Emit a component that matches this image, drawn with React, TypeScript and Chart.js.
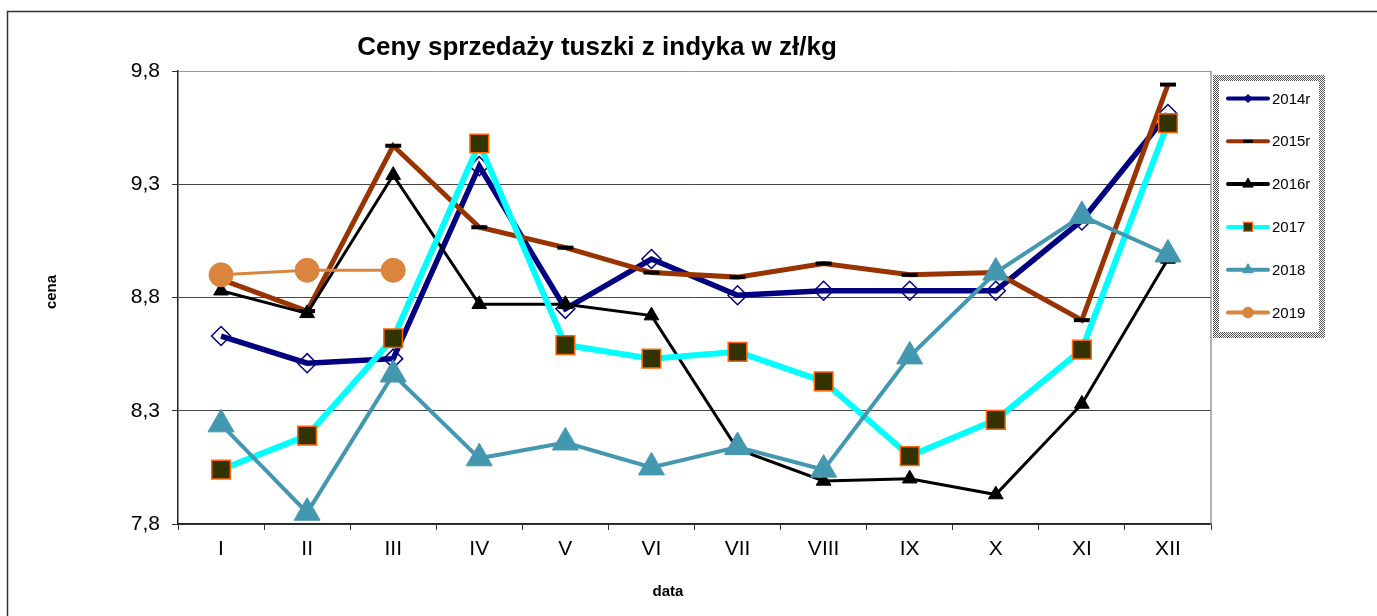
import React, { useEffect, useRef } from 'react';
import { Chart, registerables } from 'chart.js';

Chart.register(...registerables);

const TITLE = 'Ceny sprzedaży tuszki z indyka w zł/kg';
const X_TITLE = 'data';
const Y_TITLE = 'cena';

const CATEGORIES = ['I', 'II', 'III', 'IV', 'V', 'VI', 'VII', 'VIII', 'IX', 'X', 'XI', 'XII'];
const Y_TICKS = [7.8, 8.3, 8.8, 9.3, 9.8];

const SERIES_NAMES = ['2014r', '2015r', '2016r', '2017', '2018', '2019'];
const S2014 = [8.63, 8.51, 8.53, 9.38, 8.75, 8.97, 8.81, 8.83, 8.83, 8.83, 9.14, 9.61];
const S2015 = [8.88, 8.74, 9.47, 9.11, 9.02, 8.91, 8.89, 8.95, 8.9, 8.91, 8.7, 9.74];
const S2016 = [8.83, 8.73, 9.34, 8.77, 8.77, 8.72, 8.13, 7.99, 8.0, 7.93, 8.33, 8.97];
const S2017 = [8.04, 8.19, 8.62, 9.48, 8.59, 8.53, 8.56, 8.43, 8.1, 8.26, 8.57, 9.57];
const S2018 = [8.24, 7.85, 8.46, 8.09, 8.16, 8.05, 8.14, 8.04, 8.54, 8.91, 9.16, 8.99];
const S2019 = [8.9, 8.92, 8.92, null, null, null, null, null, null, null, null, null];
const SERIES_VALUES = [S2014, S2015, S2016, S2017, S2018, S2019];

const FONT = "'Liberation Sans', Arial, Helvetica, sans-serif";

type Style = {
  line: string;
  width: number;
  point: string;
  radius: number;
  fill: string;
  pStroke: string;
  pbw: number;
  lg: { kind: string; r: number; fill: string | null; stroke: string | null; bw: number };
};

const STYLES: Style[] = [
  { line: '#000080', width: 5.5, point: 'rectRot', radius: 9.5, fill: 'rgba(0,0,0,0)', pStroke: '#000080', pbw: 1.5,
    lg: { kind: 'diamond', r: 4, fill: '#000080', stroke: '#000080', bw: 1 } },
  { line: '#993300', width: 5, point: 'line', radius: 8, fill: '#000000', pStroke: '#000000', pbw: 4,
    lg: { kind: 'dash', r: 5, fill: null, stroke: '#000000', bw: 3 } },
  { line: '#000000', width: 3, point: 'triangle', radius: 8.5, fill: '#000000', pStroke: '#000000', pbw: 1,
    lg: { kind: 'triangle', r: 6, fill: '#000000', stroke: '#000000', bw: 1 } },
  { line: '#00FFFF', width: 6, point: 'rect', radius: 13.2, fill: '#333300', pStroke: '#FF6600', pbw: 1.5,
    lg: { kind: 'rect', r: 4.5, fill: '#333300', stroke: '#FF6600', bw: 1.2 } },
  { line: '#4398B0', width: 4, point: 'triangle', radius: 15, fill: '#4398B0', pStroke: '#4398B0', pbw: 1,
    lg: { kind: 'triangle', r: 6, fill: '#4398B0', stroke: '#4398B0', bw: 1 } },
  { line: '#DA853E', width: 3, point: 'circle', radius: 12, fill: '#DA853E', pStroke: '#DA853E', pbw: 1,
    lg: { kind: 'circle', r: 5.3, fill: '#DA853E', stroke: '#DA853E', bw: 1 } },
];

function drawMarker(ctx: CanvasRenderingContext2D, kind: string, x: number, y: number, r: number,
  fill: string | null, stroke: string | null, bw: number) {
  ctx.beginPath();
  if (kind === 'diamond') {
    ctx.moveTo(x - r, y); ctx.lineTo(x, y - r); ctx.lineTo(x + r, y); ctx.lineTo(x, y + r); ctx.closePath();
  } else if (kind === 'triangle') {
    ctx.moveTo(x, y - r); ctx.lineTo(x + r * 0.866, y + r / 2); ctx.lineTo(x - r * 0.866, y + r / 2); ctx.closePath();
  } else if (kind === 'rect') {
    ctx.rect(x - r, y - r, 2 * r, 2 * r);
  } else if (kind === 'circle') {
    ctx.arc(x, y, r, 0, Math.PI * 2);
  } else if (kind === 'dash') {
    ctx.moveTo(x - r, y); ctx.lineTo(x + r, y);
  }
  if (fill && kind !== 'dash') { ctx.fillStyle = fill; ctx.fill(); }
  if (stroke) { ctx.lineWidth = bw; ctx.strokeStyle = stroke; ctx.stroke(); }
}

const decorPlugin = {
  id: 'decor',
  beforeDraw(chart: any) {
    const ctx: CanvasRenderingContext2D = chart.ctx;
    ctx.save();
    ctx.fillStyle = '#ffffff';
    ctx.fillRect(0, 0, chart.width, chart.height);
    ctx.strokeStyle = '#333333';
    ctx.lineWidth = 1.5;
    ctx.strokeRect(7.5, 11.5, chart.width + 50, chart.height + 50);
    ctx.restore();
  },
  beforeDatasetsDraw(chart: any) {
    const ctx: CanvasRenderingContext2D = chart.ctx;
    const a = chart.chartArea;
    ctx.save();
    ctx.strokeStyle = '#999999';
    ctx.lineWidth = 1.5;
    ctx.beginPath();
    ctx.moveTo(a.right, a.top);
    ctx.lineTo(a.right, a.bottom);
    ctx.stroke();
    ctx.restore();
  },
  afterDraw(chart: any) {
    const ctx: CanvasRenderingContext2D = chart.ctx;
    ctx.save();
    ctx.fillStyle = '#000000';
    ctx.textAlign = 'center';
    ctx.textBaseline = 'middle';
    ctx.font = `bold 26px ${FONT}`;
    ctx.fillText(TITLE, 597, 48);
    ctx.font = `bold 15px ${FONT}`;
    ctx.fillText(X_TITLE, 668, 592);
    ctx.save();
    ctx.translate(52, 292);
    ctx.rotate(-Math.PI / 2);
    ctx.fillText(Y_TITLE, 0, 0);
    ctx.restore();

    // legend box
    const pc = document.createElement('canvas');
    pc.width = 2; pc.height = 2;
    const pctx = pc.getContext('2d')!;
    pctx.fillStyle = '#ffffff'; pctx.fillRect(0, 0, 2, 2);
    pctx.fillStyle = '#555555'; pctx.fillRect(0, 0, 1, 1); pctx.fillRect(1, 1, 1, 1);
    const pat = ctx.createPattern(pc, 'repeat');
    if (pat) ctx.strokeStyle = pat;
    ctx.lineWidth = 6;
    ctx.strokeRect(1216, 78, 106, 257);

    ctx.textAlign = 'left';
    ctx.font = `15px ${FONT}`;
    SERIES_NAMES.forEach((name, i) => {
      const st = STYLES[i];
      const y = 98.5 + i * 42.8;
      ctx.strokeStyle = st.line;
      ctx.lineWidth = 4;
      ctx.lineCap = 'round';
      ctx.beginPath();
      ctx.moveTo(1228, y);
      ctx.lineTo(1268, y);
      ctx.stroke();
      ctx.lineCap = 'butt';
      drawMarker(ctx, st.lg.kind, 1248, y, st.lg.r, st.lg.fill, st.lg.stroke, st.lg.bw);
      ctx.fillStyle = '#000000';
      ctx.fillText(name, 1272, y + 1);
    });
    ctx.restore();
  },
};

export default function App() {
  const ref = useRef<HTMLCanvasElement | null>(null);
  useEffect(() => {
    if (!ref.current) return;
    const datasets = SERIES_NAMES.map((name, i) => {
      const st = STYLES[i];
      return {
        label: name,
        data: SERIES_VALUES[i],
        borderColor: st.line,
        borderWidth: st.width,
        backgroundColor: st.fill,
        pointStyle: st.point,
        pointRadius: st.radius,
        pointBackgroundColor: st.fill,
        pointBorderColor: st.pStroke,
        pointBorderWidth: st.pbw,
        pointHoverRadius: st.radius,
        tension: 0,
        fill: false,
        order: SERIES_NAMES.length - i,
      };
    });
    const chart = new Chart(ref.current, {
      type: 'line',
      data: { labels: CATEGORIES, datasets: datasets as any },
      options: {
        animation: false,
        responsive: false,
        maintainAspectRatio: false,
        events: [],
        layout: { padding: { left: 0, top: 71, right: 166, bottom: 0 } },
        plugins: {
          legend: { display: false },
          title: { display: false },
          tooltip: { enabled: false },
        },
        scales: {
          x: {
            type: 'category',
            offset: true,
            grid: { offset: true, drawOnChartArea: false, drawTicks: true, tickLength: 6, color: '#333333', lineWidth: 1 },
            border: { display: true, color: '#222222', width: 1.5 },
            ticks: { font: { family: FONT, size: 21 }, color: '#000000', padding: 7, maxRotation: 0, autoSkip: false },
            afterFit: (s: any) => { s.height = 92; },
          },
          y: {
            min: 7.8,
            max: 9.8,
            afterBuildTicks: (s: any) => { s.ticks = Y_TICKS.map((v) => ({ value: v })); },
            ticks: {
              font: { family: FONT, size: 21 },
              color: '#000000',
              padding: 12,
              callback: (v: any) => Number(v).toFixed(1).replace('.', ','),
            },
            grid: {
              color: (c: any) => (c.tick && Math.abs(c.tick.value - 9.8) < 1e-6 ? '#999999' : '#444444'),
              tickColor: '#333333',
              tickLength: 6,
              lineWidth: 1,
            },
            border: { display: true, color: '#222222', width: 1.5 },
            afterFit: (s: any) => { s.width = 178; },
          },
        },
      },
      plugins: [decorPlugin],
    });
    return () => chart.destroy();
  }, []);
  return (
    <div style={{ position: 'absolute', left: 0, top: 0, width: 1377, height: 616 }}>
      <canvas ref={ref} width={1377} height={616} style={{ width: 1377, height: 616, display: 'block' }} />
    </div>
  );
}
